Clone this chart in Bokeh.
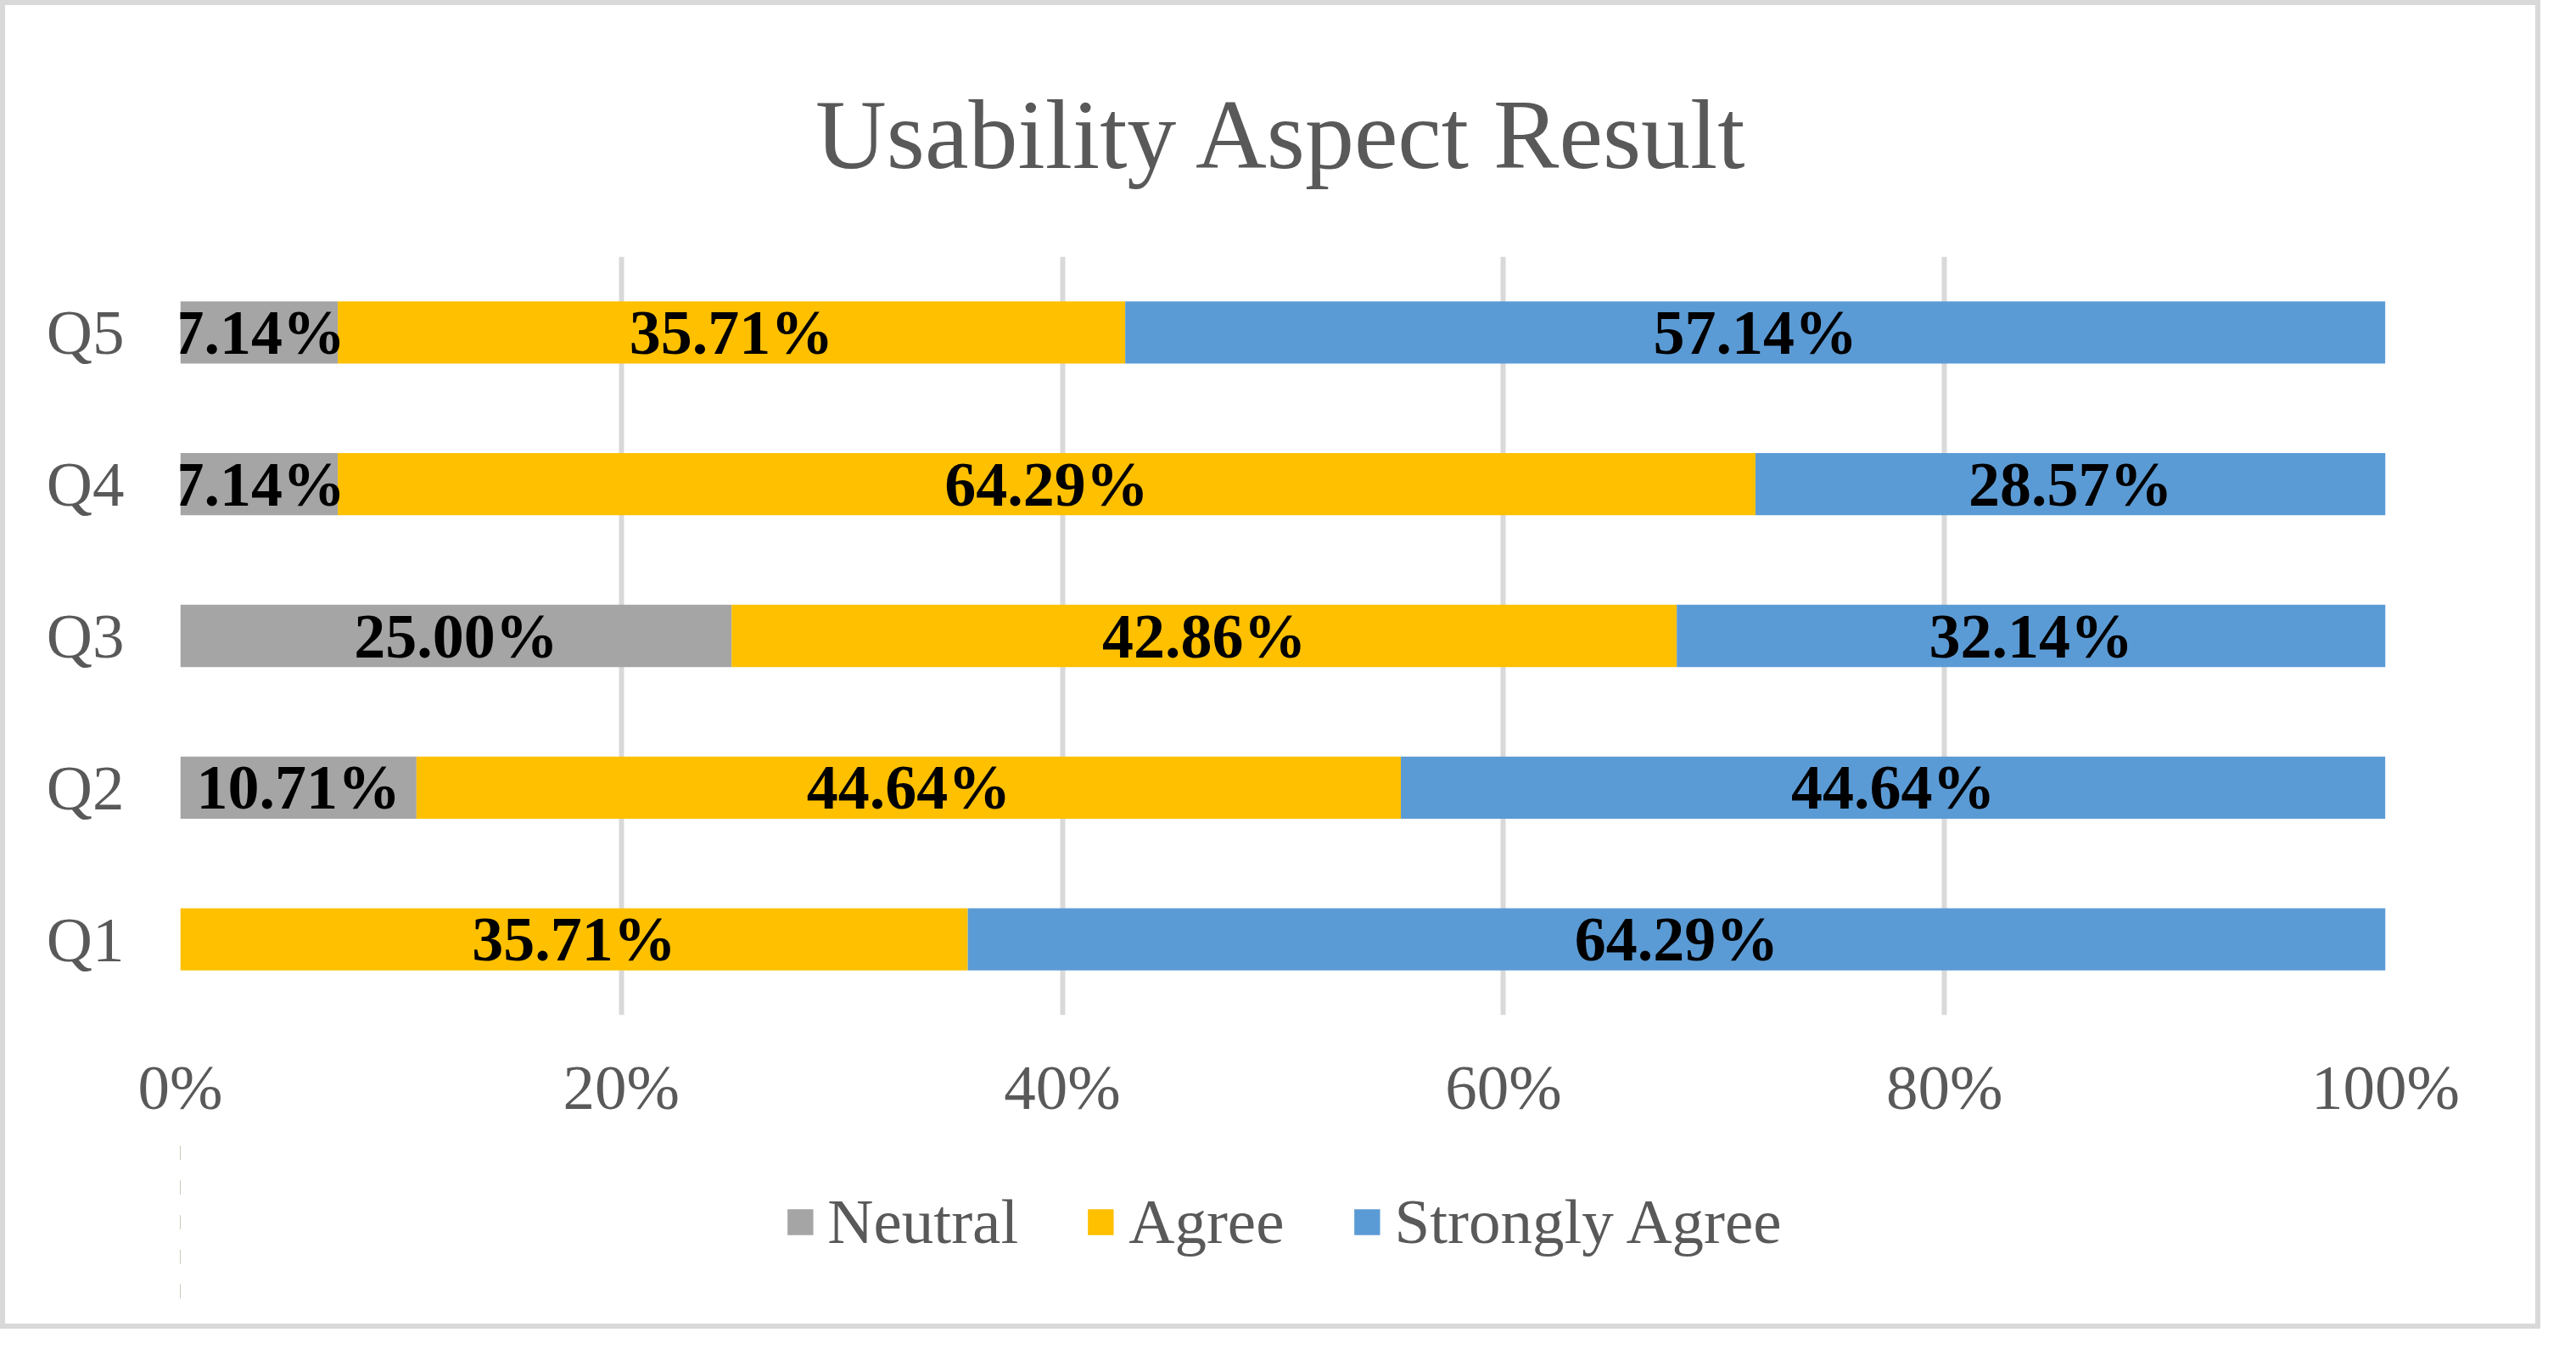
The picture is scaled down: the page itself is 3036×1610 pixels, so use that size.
from bokeh.plotting import figure
from bokeh.layouts import column
from bokeh.models import (ColumnDataSource, FactorRange, Range1d, FixedTicker, PrintfTickFormatter,
                          Legend, LegendItem, LabelSet, Title)
from bokeh.core.properties import value
from bokeh.embed import file_html
from bokeh.resources import INLINE

questions = ["Q1", "Q2", "Q3", "Q4", "Q5"]
series_names = ["Neutral", "Agree", "Strongly Agree"]
neutral = [0.0, 10.71, 25.00, 7.14, 7.14]
agree = [35.71, 44.64, 42.86, 64.29, 35.71]
strongly_agree = [64.29, 44.64, 32.14, 28.57, 57.14]
x_ticks = [0, 20, 40, 60, 80, 100]
colors = ["#a5a5a5", "#ffc000", "#5b9bd5"]

FONT = "Liberation Serif"
GREY_TEXT = "#595959"

source = ColumnDataSource(dict(q=questions, Neutral=neutral, Agree=agree,
                               **{"Strongly Agree": strongly_agree}))

# ---------------- main chart ----------------
p = figure(width=2982, height=1332, output_backend="svg", toolbar_location=None,
           y_range=FactorRange(*questions, range_padding=0), x_range=Range1d(0, 100),
           min_border_left=206, min_border_right=177, min_border_top=296, min_border_bottom=142,
           outline_line_color=None, background_fill_color="white", border_fill_color="white")

renderers = p.hbar_stack(series_names, y="q", height=0.41, color=colors, line_color=None,
                         source=source)

# data labels
lx, ly, lt = [], [], []
for i, q in enumerate(questions):
    vals = [neutral[i], agree[i], strongly_agree[i]]
    start = 0.0
    for v in vals:
        if v > 0:
            lx.append(start + v / 2.0)
            ly.append(q)
            lt.append(f"{v:.2f}%")
        start += v
lab_src = ColumnDataSource(dict(x=lx, y=ly, t=lt))
labels = LabelSet(x="x", y="y", text="t", source=lab_src, text_align="center",
                  text_baseline="middle", text_font=value(FONT), text_font_style="bold",
                  text_font_size="74px", text_color="black")
p.add_layout(labels)

# title
title = Title(text="Usability Aspect Result", align="center", text_font=FONT,
              text_font_size="116px", text_font_style="normal", text_color=GREY_TEXT,
              standoff=160, offset=-28)
p.add_layout(title, "above")

# axes
p.xaxis.ticker = FixedTicker(ticks=x_ticks)
p.xaxis.formatter = PrintfTickFormatter(format="%d%%")
for ax in (p.xaxis, p.yaxis):
    ax.axis_line_color = None
    ax.major_tick_line_color = None
    ax.minor_tick_line_color = None
    ax.major_label_text_font = FONT
    ax.major_label_text_font_size = "75px"
    ax.major_label_text_color = GREY_TEXT
p.xaxis.major_label_standoff = 37
p.yaxis.major_label_standoff = 60

p.xgrid.grid_line_color = "#d9d9d9"
p.xgrid.grid_line_width = 6
p.ygrid.grid_line_color = None

# ---------------- legend strip (same data, drawn outside its visible range) ----------------
pl = figure(width=2982, height=222, output_backend="svg", toolbar_location=None,
            x_axis_location=None, y_axis_location=None,
            x_range=Range1d(200, 300), y_range=FactorRange(*questions, range_padding=0),
            min_border_left=24, min_border_right=0, min_border_top=0, min_border_bottom=18,
            outline_line_color=None, background_fill_color="white", border_fill_color="white")
pl.xgrid.visible = False
pl.ygrid.visible = False
leg_renderers = pl.hbar_stack(series_names, y="q", height=0.41, color=colors, line_color=None,
                              source=source)
legend = Legend(items=[LegendItem(label=n, renderers=[r]) for n, r in zip(series_names, leg_renderers)],
                orientation="horizontal", location="center", border_line_color=None,
                background_fill_alpha=0, glyph_width=38, glyph_height=38, label_standoff=14,
                spacing=78, padding=0, margin=0, label_text_font=FONT,
                label_text_font_size="75px", label_text_color=GREY_TEXT)
pl.add_layout(legend, "center")

layout = column(p, pl, spacing=0)
layout.styles = {"border": "6px solid #d9d9d9"}

open("out.html", "w").write(file_html(layout, INLINE))
